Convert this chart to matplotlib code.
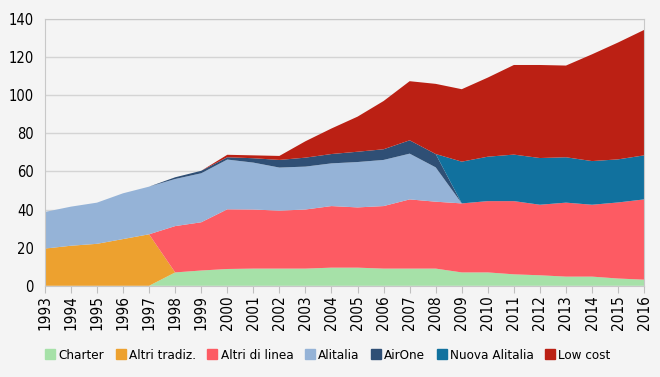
import numpy as np
import matplotlib
matplotlib.use("Agg")
from matplotlib import pyplot as plt
from matplotlib.patches import Patch
from matplotlib import font_manager

# dati (milioni di passeggeri)
anni = list(range(1993, 2017))
charter = [0, 0, 0, 0, 0, 7, 8, 8.8, 9, 9, 9, 9.5, 9.5, 9, 9, 9,
           7, 7, 6, 5.5, 4.8, 4.8, 3.8, 3.2]
altri_tradiz = [19.5, 21, 22, 24.5, 27, 0, 0, 0, 0, 0, 0, 0, 0, 0, 0, 0,
                0, 0, 0, 0, 0, 0, 0, 0]
altri_linea = [0, 0, 0, 0, 0, 24.3, 25.3, 31.3, 31, 30.4, 31, 32.3, 31.6, 32.8, 36.3, 35.1,
               36.2, 37.4, 38.4, 37, 38.8, 37.7, 39.9, 42.1]
alitalia = [19.2, 20.5, 21.6, 24, 25, 24.7, 25.7, 26.1, 24.6, 22.6, 22.5, 22.4, 23.8, 24.2, 24, 18,
            0, 0, 0, 0, 0, 0, 0, 0]
airone = [0, 0, 0, 0, 0, 0.9, 1.3, 1.2, 2.3, 4, 4.7, 4.9, 5.4, 5.6, 7, 7,
          0, 0, 0, 0, 0, 0, 0, 0]
nuova_alitalia = [0, 0, 0, 0, 0, 0, 0, 0, 0, 0, 0, 0, 0, 0, 0, 0,
                  21.9, 23.3, 24.4, 24.5, 23.8, 22.9, 22.6, 23.1]
low_cost = [0, 0, 0, 0, 0, 0, 0, 1.3, 1.5, 2.1, 8.6, 13.4, 18.4, 25.3, 31, 36.8,
            38, 41.5, 47, 48.8, 48.1, 56, 61.3, 65.8]

nomi = ["Charter", "Altri tradiz.", "Altri di linea", "Alitalia", "AirOne",
        "Nuova Alitalia", "Low cost"]
colori = ["#a6e1a8", "#eda12f", "#fd5b63", "#95b3d7", "#2f4f75", "#11719e", "#bb2014"]

# font stretto se c'e', altrimenti DejaVu normale piu' piccolo
fp = font_manager.FontProperties(family='DejaVu Sans', stretch='condensed')
stretto = 'Condensed' in font_manager.findfont(fp)
plt.rcParams['font.family'] = ['DejaVu Sans']
if stretto:
    plt.rcParams['font.stretch'] = 'condensed'
    f_leg = 9.6
else:
    f_leg = 8.4
sfondo = "#f4f4f4"

fig = plt.figure(figsize=(6.6, 3.77), dpi=100, facecolor=sfondo)
ax = fig.add_axes([0.068, 0.242, 0.908, 0.708], facecolor=sfondo)

serie = [charter, altri_tradiz, altri_linea, alitalia, airone, nuova_alitalia, low_cost]
ax.stackplot(anni, *serie, colors=colori, linewidth=0, zorder=2)

ax.set_xlim(1993, 2016)
ax.set_ylim(0, 140)
ax.set_yticks(range(0, 141, 20))
ax.set_xticks(anni)
ax.set_xticklabels([str(a) for a in anni], rotation=90)
ax.tick_params(axis='y', length=0, labelsize=10.5, pad=8)
ax.tick_params(axis='x', length=5, color="#bfbfbf", labelsize=11, pad=2)
ax.grid(axis='y', color="#d4d4d4", linewidth=1, zorder=0)
for s in ax.spines.values():
    s.set_color("#c8c8c8")

maniglie = [Patch(color=c) for c in colori]
fig.legend(maniglie, nomi, loc='center', bbox_to_anchor=(0.497, 0.058), ncol=7,
           frameon=False, fontsize=f_leg, handlelength=0.75, handleheight=0.75,
           handletextpad=0.25, columnspacing=0.85)

fig.savefig("out.png", dpi=100, facecolor=sfondo)
